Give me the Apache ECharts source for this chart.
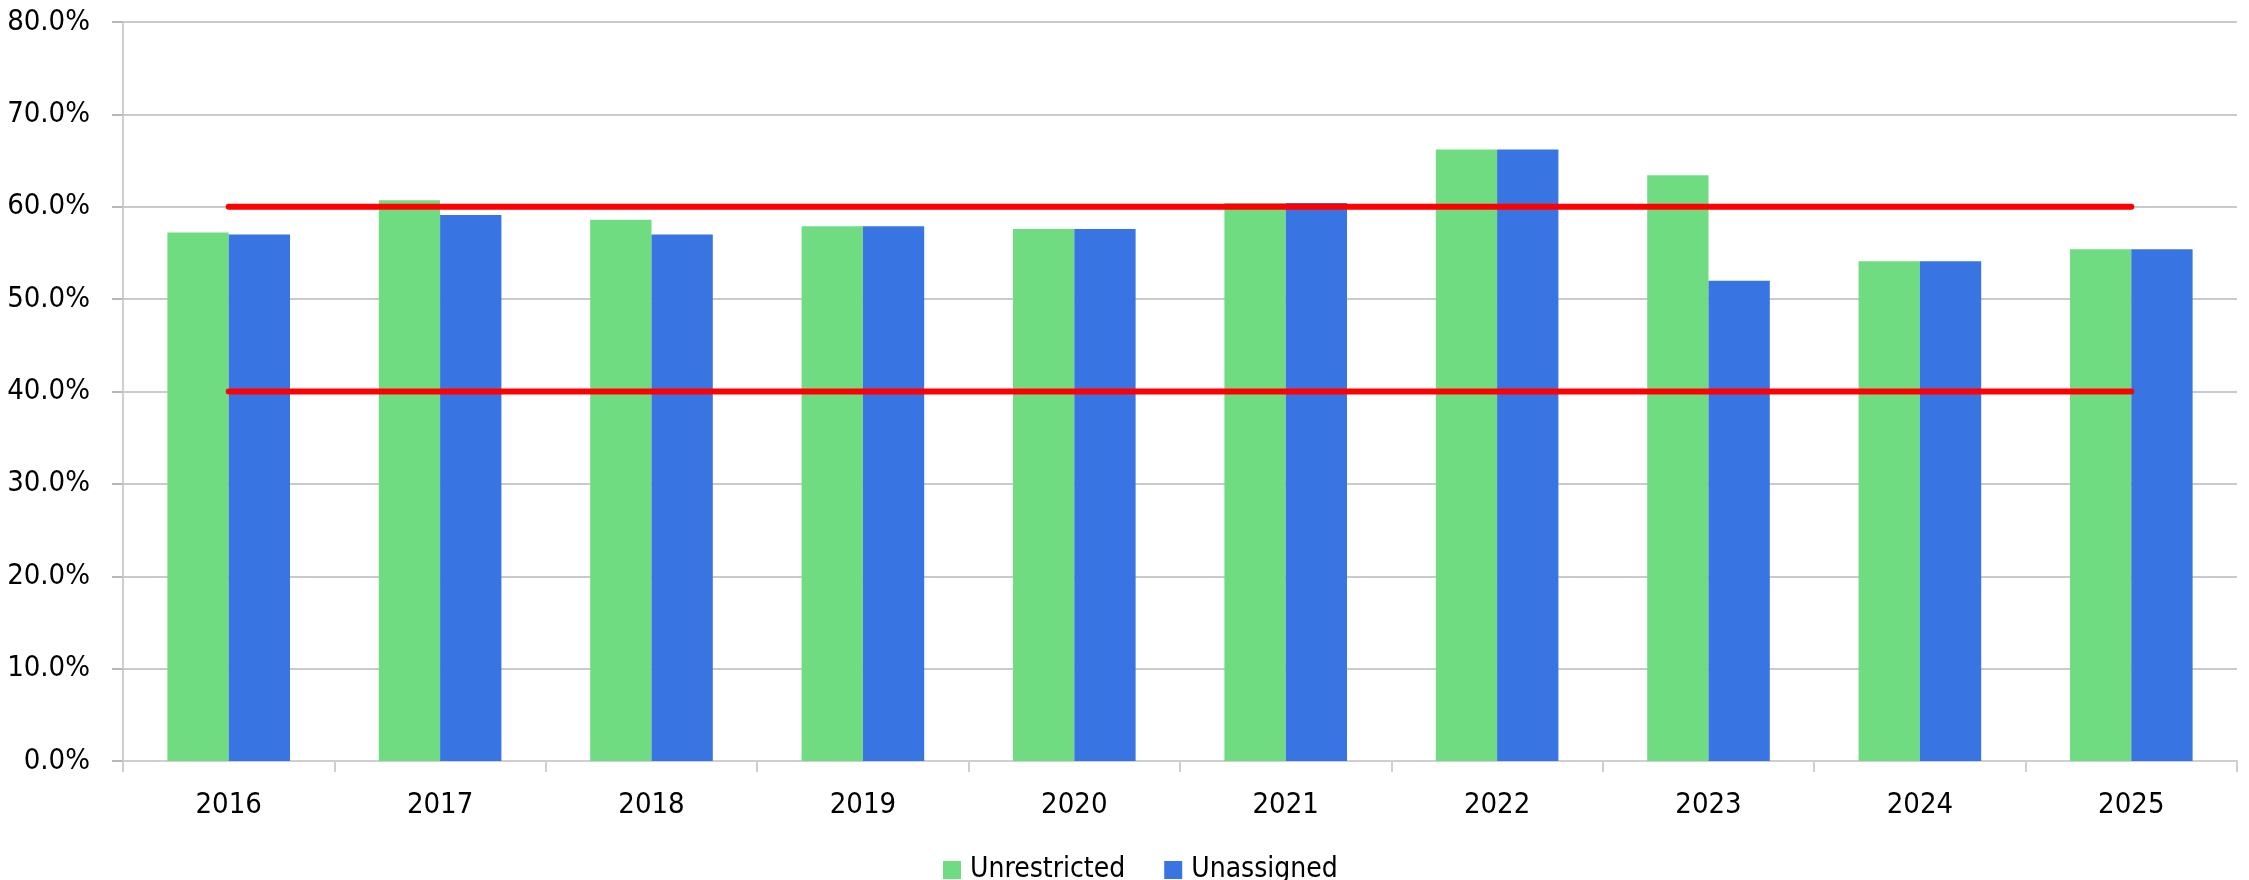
<!DOCTYPE html>
<html>
<head>
<meta charset="utf-8">
<script src="https://cdn.jsdelivr.net/npm/echarts@6/dist/echarts.min.js"></script>
<style>
  html, body { margin: 0; padding: 0; background: #fff; }
  #chart { width: 2249px; height: 880px; }
</style>
</head>
<body>
<div id="chart"></div>
<script>
var years = ['2016', '2017', '2018', '2019', '2020', '2021', '2022', '2023', '2024', '2025'];
var unrestricted = [57.2, 60.7, 58.6, 57.9, 57.6, 60.4, 66.2, 63.4, 54.1, 55.4];
var unassigned = [57.0, 59.1, 57.0, 57.9, 57.6, 60.4, 66.2, 52.0, 54.1, 55.4];
var upperBand = [60, 60, 60, 60, 60, 60, 60, 60, 60, 60];
var lowerBand = [40, 40, 40, 40, 40, 40, 40, 40, 40, 40];

var font = '"DejaVu Sans Condensed", "Liberation Sans", sans-serif';

var chart = echarts.init(document.getElementById('chart'));

var option = {
  animation: false,
  backgroundColor: '#ffffff',
  textStyle: { fontFamily: font },
  grid: {
    left: 123,
    right: 12,
    top: 22,
    bottom: 119,
    containLabel: false
  },
  legend: {
    data: ['Unrestricted', 'Unassigned'],
    left: 938,
    top: 851,
    itemWidth: 18,
    itemHeight: 18,
    itemGap: 39,
    icon: 'rect',
    textStyle: { fontFamily: font, fontSize: 28, color: '#000', padding: [0, 0, 0, 4] }
  },
  xAxis: {
    type: 'category',
    data: years,
    boundaryGap: true,
    axisLine: { lineStyle: { color: '#cfcfcf', width: 2 } },
    axisTick: { show: true, length: 11, lineStyle: { color: '#cfcfcf', width: 2 } },
    axisLabel: { color: '#000', fontSize: 29, fontFamily: font, margin: 30 },
    splitLine: { show: false }
  },
  yAxis: {
    type: 'value',
    min: 0,
    max: 80,
    interval: 10,
    axisLine: { show: true, lineStyle: { color: '#cfcfcf', width: 2 } },
    axisTick: { show: true, length: 11, lineStyle: { color: '#b8b8b8', width: 2 } },
    axisLabel: {
      color: '#000',
      fontSize: 29,
      fontFamily: font,
      margin: 33,
      formatter: function (v) { return v.toFixed(1) + '%'; }
    },
    splitLine: { lineStyle: { color: '#b8b8b8', width: 1.5 } }
  },
  series: [
    {
      name: 'Unrestricted',
      type: 'bar',
      data: unrestricted,
      barGap: '0%',
      barCategoryGap: '42%',
      itemStyle: { color: '#70dc82' }
    },
    {
      name: 'Unassigned',
      type: 'bar',
      data: unassigned,
      barGap: '0%',
      barCategoryGap: '42%',
      itemStyle: { color: '#3875e3' }
    },
    {
      name: 'Upper',
      type: 'line',
      data: upperBand,
      showSymbol: false,
      lineStyle: { color: '#ff0000', width: 6, cap: 'round' },
      z: 5
    },
    {
      name: 'Lower',
      type: 'line',
      data: lowerBand,
      showSymbol: false,
      lineStyle: { color: '#ff0000', width: 6, cap: 'round' },
      z: 5
    }
  ]
};

chart.setOption(option);
</script>
</body>
</html>
